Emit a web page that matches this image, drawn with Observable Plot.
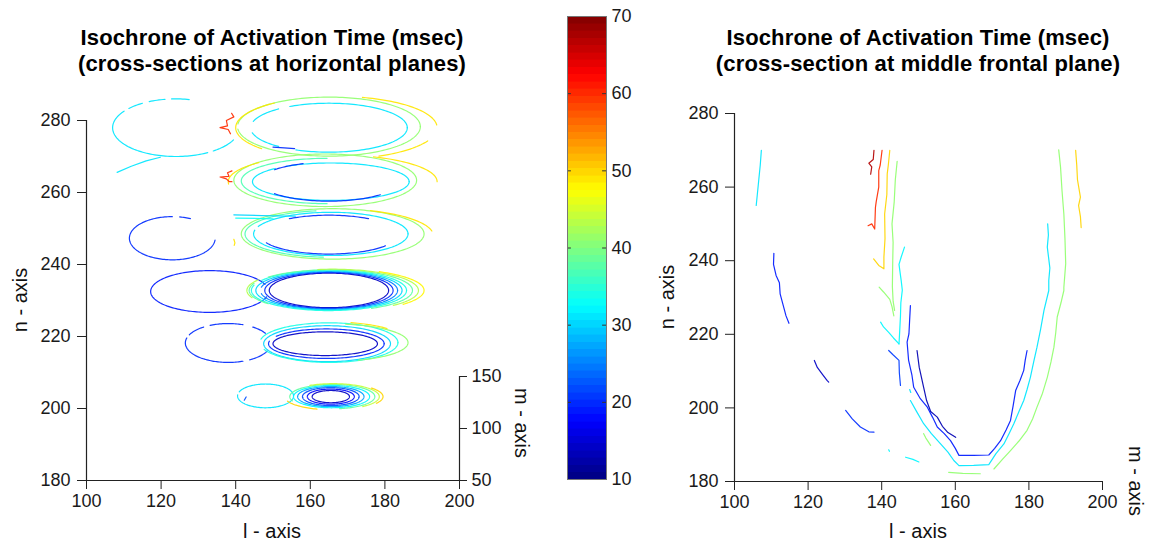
<!DOCTYPE html>
<html><head><meta charset="utf-8">
<script src="https://cdn.jsdelivr.net/npm/d3@7"></script>
<script src="https://cdn.jsdelivr.net/npm/@observablehq/plot@0.6"></script>
<style>
body{margin:0;background:#fff;font-family:"Liberation Sans",Arial,sans-serif;}
#wrap{position:relative;width:1149px;height:548px;overflow:hidden;background:#fff}
.abs{position:absolute}
.title{font-weight:bold;font-size:22px;letter-spacing:0.15px;text-align:center;line-height:26px;color:#000;width:460px}
.lab{font-size:20px;color:#111;white-space:nowrap;transform-origin:center}
</style></head><body><div id="wrap"></div>
<script>
// ---------- DATA ----------
// colour bar
const colorTicks = [10, 20, 30, 40, 50, 60, 70];
const jetDomain = [10, 17.5, 32.5, 47.5, 62.5, 70];
const jetRange = ["#000080", "#0000ff", "#00ffff", "#ffff00", "#ff0000", "#800000"];
const lTicks = [100, 120, 140, 160, 180, 200];
const nTicks = [180, 200, 220, 240, 260, 280];
const mTicks = [50, 100, 150];

// left panel: isochrone rings (l-centre, n-centre, l-radius, n-radius, time, visible arcs in degrees)
const band1 = [
  {cx:124, cy:278, rx:17, ry:8, v:31, arcs:[[78,94],[100,115],[122,138],[145,300],[306,335]]},
  {cx:165, cy:278, rx:21, ry:6.8, v:31, arcs:[[0,120],[130,165],[192,230],[245,360]]},
  {cx:165, cy:278.3, rx:24.5, ry:8.2, v:41, arcs:[[0,175],[185,360]]},
  {cx:167, cy:278, rx:27, ry:8.7, v:49, arcs:[[5,75],[128,222],[295,335]]}
];
const band2 = [
  {cx:165.5, cy:263, rx:21, ry:5.2, v:31, arcs:[[0,125],[135,360]]},
  {cx:165, cy:263, rx:18.5, ry:5.4, v:20, arcs:[[112,142],[218,318]]},
  {cx:164.5, cy:263.2, rx:23, ry:6.3, v:37, arcs:[[90,270]]},
  {cx:164, cy:263.4, rx:24.5, ry:7.3, v:41, arcs:[[0,360]]},
  {cx:166, cy:263, rx:28, ry:7.5, v:49, arcs:[[0,67],[135,185]]}
];
const band3 = [
  {cx:165.5, cy:248.5, rx:20.7, ry:6, v:31, arcs:[[0,160],[170,360]]},
  {cx:165, cy:248.3, rx:18.5, ry:5.4, v:20, arcs:[[55,125],[205,325]]},
  {cx:165.5, cy:248.5, rx:23, ry:6.5, v:37, arcs:[[100,265]]},
  {cx:166, cy:248.5, rx:24.5, ry:7, v:41, arcs:[[0,360]]},
  {cx:166, cy:248, rx:27, ry:7.5, v:49, arcs:[[10,68]]},
  {cx:123, cy:247.3, rx:11.5, ry:6, v:20, arcs:[[65,80],[90,355]]}
];
const band4 = [
  {cx:133, cy:232.5, rx:15.8, ry:5.8, v:19, arcs:[[20,345]]},
  {cx:165, cy:232.8, rx:16, ry:4.8, v:14, arcs:[[0,360]]},
  {cx:165, cy:232.8, rx:17.2, ry:5.0, v:20, arcs:[[0,360]]},
  {cx:165, cy:232.8, rx:18.4, ry:5.2, v:25, arcs:[[0,170],[190,360]]},
  {cx:165, cy:232.8, rx:19.6, ry:5.4, v:30, arcs:[[0,360]]},
  {cx:165, cy:232.8, rx:20.8, ry:5.6, v:34, arcs:[[0,150],[165,360]]},
  {cx:165.5, cy:232.8, rx:21.9, ry:5.75, v:38, arcs:[[-60,140],[160,220]]},
  {cx:166, cy:232.8, rx:23, ry:5.9, v:43, arcs:[[-45,100],[150,200]]},
  {cx:166.5, cy:232.8, rx:24, ry:6.0, v:48, arcs:[[-40,60]]}
];
const band5 = [
  {cx:138, cy:218.2, rx:11.5, ry:5.4, v:20, arcs:[[30,55],[70,115],[125,155],[165,290],[300,335]]},
  {cx:164, cy:218, rx:14, ry:3.3, v:14, arcs:[[0,360]]},
  {cx:164.3, cy:218, rx:15.5, ry:4.1, v:20, arcs:[[0,150],[170,360]]},
  {cx:164.5, cy:218, rx:17, ry:5, v:30, arcs:[[0,360]]},
  {cx:165, cy:218.3, rx:18.5, ry:5.5, v:34, arcs:[[0,170],[200,360]]},
  {cx:166, cy:218.3, rx:20.2, ry:5.2, v:41, arcs:[[-70,80]]},
  {cx:166, cy:219, rx:19, ry:5, v:49, arcs:[[40,75]]}
];
const band6 = [
  {cx:148, cy:203.5, rx:7.5, ry:3.3, v:31, arcs:[[0,160],[175,350]]},
  {cx:165.5, cy:203.3, rx:5, ry:1.7, v:14, arcs:[[0,360]]},
  {cx:165.5, cy:203.3, rx:6.3, ry:2.1, v:18, arcs:[[0,360]]},
  {cx:165.5, cy:203.3, rx:7.6, ry:2.5, v:22, arcs:[[0,360]]},
  {cx:165.5, cy:203.3, rx:8.9, ry:2.8, v:27, arcs:[[0,360]]},
  {cx:165.7, cy:203.3, rx:10.2, ry:3.1, v:32, arcs:[[0,360]]},
  {cx:165.9, cy:203.3, rx:11.4, ry:3.4, v:38, arcs:[[-80,200]]},
  {cx:166.1, cy:203.3, rx:12.4, ry:3.6, v:44, arcs:[[-50,120]]},
  {cx:166.3, cy:203.3, rx:13.2, ry:3.7, v:50, arcs:[[-30,40],[200,250]]}
];
// left panel: open fragments (l, n points)
const leftFragments = [
  {v:60, pts:[[138.9,282],[139.5,281],[137.5,280],[137.8,278.5],[135.8,278],[138,277.5],[138.6,276.3]]},
  {v:20, pts:[[150,272.6],[153,272.4],[155.8,272.2]]},
  {v:31, pts:[[108.2,265.6],[112,267.3],[116,268.8],[119.8,269.8]]},
  {v:60, pts:[[139,266],[137.8,265.5],[138.2,264.5],[135.8,264.3],[137.5,263.8],[138.3,263],[139,263]]},
  {v:49, pts:[[139.5,247],[139.8,246],[139.6,245.3]]},
  {v:30, pts:[[139.5,253.8],[147,253.6],[156,253.4]]},
  {v:33, pts:[[140,252.9],[150,252.7]]},
  {v:22, pts:[[142.3,202.3],[142.8,203.2]]}
];

// right panel: isochrone lines in the middle frontal plane (l, n points)
const rightCurves = [
  {v:31, pts:[[107.3,270],[107,266],[106.6,262],[106.2,258],[105.9,255]]},
  {v:19, pts:[[110.7,242],[110.6,239],[111.3,236],[112.2,234],[112.4,231],[113.2,228],[114,225],[114.8,223]]},
  {v:67, pts:[[137.9,270],[137.7,267.5],[136.5,266.5],[137.3,265.5],[137,263.5]]},
  {v:60, pts:[[140.1,270],[139.6,266],[139.2,264.5],[139.2,260],[138.5,256],[138.3,254.5],[138.1,248.6],[137.3,250],[136.3,249.5]]},
  {v:50, pts:[[142.2,270],[141.8,266],[141.5,263.6],[141.4,258],[140.8,252.7],[140.9,246],[140.6,241],[140.6,237.8],[139.2,238.7],[137.8,240.5]]},
  {v:41, pts:[[144.2,267],[143.7,262],[143.4,256],[142.8,250],[143.1,245],[143,240],[142.9,233],[143.1,229],[143.5,226.5]]},
  {v:41, pts:[[139.3,232.8],[140.5,231.5],[142.2,229.5],[142.8,227.5],[143.3,225]]},
  {v:32, pts:[[146.2,243.7],[145.3,241],[144.7,239],[145.1,236],[145.3,234.6],[145.6,232],[145.2,228.5],[145.1,225],[144.9,221],[144.7,217.4]]},
  {v:32, pts:[[139.7,223.3],[140.5,222],[141.9,220.5],[143.2,219],[144.7,217.4]]},
  {v:19, pts:[[147.8,227.8],[147.6,224],[147.4,220.1],[146.9,217.9],[147.3,213],[148.2,209],[148.7,205.6],[150.5,202.5],[152.4,200.2],[153.8,197.5],[155.1,194.8],[157,193],[158.7,191.1],[160,189],[161,187.1],[165,187.1],[169.1,187.2],[170.7,189],[172.3,191.1],[173.8,194],[175,196.6],[175.7,200.5],[176.4,204.7],[177.6,207.5],[178.6,210.2],[179,213],[179.5,215.6]]},
  {v:13, pts:[[149.6,215.6],[150.2,211],[151.4,205.6],[152.2,202],[153.3,199],[155.1,197.5],[156.5,195],[158,193.3],[160.1,192]]},
  {v:31, pts:[[147.6,205],[147.9,204.2]]},
  {v:31, pts:[[147.8,202],[149.5,199],[151.4,195.7],[153.5,193],[156,190.2],[158,188],[159.6,185.7],[161,184.3],[165,184.4],[169.1,184.6],[171,187.5],[173.2,190.2],[174.6,193],[175.9,195.7],[177.3,199],[178.6,202],[179.5,205],[180.4,208.3],[181.3,212.5],[182.2,216.5],[183.2,221.5],[184.1,226.5],[185.4,231.9],[185.4,234.6],[185.7,238],[185,243.7],[185.3,247],[185.1,250]]},
  {v:41, pts:[[158.2,182.5],[162,182.2],[166.8,182.1]]},
  {v:41, pts:[[170.5,183.4],[172.8,186],[175,188.4],[177.3,191],[179.5,193.9],[181,197],[182.2,200.2],[183.7,204],[185,208.3],[186,212.5],[186.8,216.5],[187.3,220.5],[187.7,224.7],[188.7,228.5],[189.5,231.9],[189.5,232.8],[190,239.2],[189.8,246],[189.5,252.7],[189,259],[188.6,265.4],[188.1,270.1]]},
  {v:50, pts:[[192.7,270],[193,266],[193.2,262],[194,257.3],[193.5,255],[194,252],[194.2,249]]},
  {v:21, pts:[[141.9,215.6],[143,214.5],[144.7,212.9],[144.8,209.5],[145.1,206.1]]},
  {v:14, pts:[[121.7,212.9],[122.5,211],[124,209],[125.2,207.4],[125.6,207]]},
  {v:20, pts:[[130.2,199.3],[132,197],[134.2,194.8],[136.5,193.5],[137.9,193.4]]},
  {v:32, pts:[[146.5,186.6],[148.5,186],[150.1,185.3]]},
  {v:32, pts:[[141.9,188.6],[142.1,188.2]]},
  {v:41, pts:[[151.4,193],[152,191.8],[153.3,189.8]]}
];

// ---------- BUILD ----------
function ringRows(rings, prefix) {
  const rows = [];
  rings.forEach((r, i) => r.arcs.forEach((a, j) => {
    const id = prefix + i + "_" + j;
    const steps = Math.max(2, Math.ceil((a[1] - a[0]) / 2));
    for (let k = 0; k <= steps; k++) {
      const th = (a[0] + (a[1] - a[0]) * k / steps) * Math.PI / 180;
      rows.push({id, l: r.cx + r.rx * Math.cos(th), n: r.cy + r.ry * Math.sin(th), v: r.v});
    }
  }));
  return rows;
}
function fragRows(frags, prefix) {
  const rows = [];
  frags.forEach((f, i) => f.pts.forEach(p => rows.push({id: prefix + i, l: p[0], n: p[1], v: f.v})));
  return rows;
}
const leftRows = [
  ...ringRows(band1, "a"), ...ringRows(band2, "b"), ...ringRows(band3, "c"),
  ...ringRows(band4, "d"), ...ringRows(band5, "e"), ...ringRows(band6, "f"),
  ...fragRows(leftFragments, "g")
];
const rightRows = fragRows(rightCurves, "r");

const colorScale = {type: "linear", domain: jetDomain, range: jetRange};
const font = {fontFamily: "'Liberation Sans', Arial, sans-serif", fontSize: "18px", color: "#1a1a1a", background: "transparent", overflow: "visible"};
const axisColor = "#222";

const wrap = document.getElementById("wrap");
function place(el, left, top) {
  el.style.position = "absolute"; el.style.left = left + "px"; el.style.top = top + "px";
  wrap.appendChild(el);
}
function panel(rows, opts) {
  return Plot.plot({
    width: opts.width, height: 548,
    marginLeft: opts.ml, marginRight: opts.mr, marginTop: opts.mt, marginBottom: opts.mb,
    style: font,
    x: {domain: [100, 200]},
    y: {domain: [180, 280]},
    color: colorScale,
    marks: [
      Plot.line(rows, {x: "l", y: "n", z: "id", stroke: "v", strokeWidth: 1.2, strokeOpacity: 0.92}),
      Plot.ruleX([100], {stroke: axisColor, strokeWidth: 1.2}),
      Plot.ruleY([180], {stroke: axisColor, strokeWidth: 1.2}),
      Plot.axisX({ticks: lTicks, tickSize: 9, tickPadding: 5, label: null, stroke: axisColor, fill: "#1a1a1a"}),
      Plot.axisY({ticks: nTicks, tickSize: 9, tickPadding: 7, label: null, stroke: axisColor, fill: "#1a1a1a"})
    ]
  });
}

// left panel
place(panel(leftRows, {width: 540, ml: 86, mr: 81, mt: 120, mb: 68}), 0, 0);

// m-axis (small secondary axis)
const mAxis = Plot.plot({
  width: 100, height: 160, marginLeft: 18, marginRight: 81, marginTop: 36, marginBottom: 20,
  style: font,
  x: {domain: [0, 1], axis: null},
  y: {domain: [50, 150], axis: null},
  marks: [
    Plot.ruleX([1], {stroke: axisColor, strokeWidth: 1.2}),
    Plot.axisY({anchor: "right", ticks: mTicks, tickSize: 7, tickPadding: 5, label: null, stroke: axisColor, fill: "#1a1a1a"})
  ]
});
place(mAxis, 440, 340);

// colour bar
const nSteps = 64;
const cbLevels = d3.range(nSteps).map(i => {
  const lo = 10 + 60 * i / nSteps, hi = 10 + 60 * (i + 1) / nSteps;
  return {lo, hi, mid: (lo + hi) / 2};
});
const cbar = Plot.plot({
  width: 110, height: 548, marginLeft: 27, marginRight: 44, marginTop: 16, marginBottom: 69,
  style: font,
  x: {domain: [0, 1], axis: null},
  y: {domain: [10, 70], axis: null},
  color: colorScale,
  marks: [
    Plot.rect(cbLevels, {x1: 0, x2: 1, y1: "lo", y2: "hi", fill: "mid", stroke: "mid", strokeWidth: 0.6, shapeRendering: "crispEdges"}),
    Plot.ruleY(colorTicks.slice(1, -1), {x1: 0, x2: 0.1, stroke: "#333"}),
    Plot.ruleY(colorTicks.slice(1, -1), {x1: 0.9, x2: 1, stroke: "#333"}),
    Plot.frame({stroke: "#777"}),
    Plot.axisY({anchor: "right", ticks: colorTicks, tickSize: 0, tickPadding: 5, label: null, fill: "#1a1a1a"})
  ]
});
place(cbar, 540, 0);

// right panel
place(panel(rightRows, {width: 509, ml: 94, mr: 47, mt: 113, mb: 67}), 640, 0);

// text
function addText(html, cls, cx, cy, rot) {
  const d = document.createElement("div");
  d.className = "abs " + cls;
  d.innerHTML = html;
  d.style.left = cx + "px"; d.style.top = cy + "px";
  d.style.transform = "translate(-50%,-50%)" + (rot ? " rotate(" + rot + "deg)" : "");
  wrap.appendChild(d);
}
addText("Isochrone of Activation Time (msec)<br>(cross-sections at horizontal planes)", "title", 272, 51);
addText("Isochrone of Activation Time (msec)<br>(cross-section at middle frontal plane)", "title", 918, 51);
addText("n - axis", "lab", 20, 300, -90);
addText("l - axis", "lab", 272, 531);
addText("m - axis", "lab", 521, 423, 90);
addText("n - axis", "lab", 667, 297, -90);
addText("l - axis", "lab", 918, 531);
addText("m - axis", "lab", 1135, 481, 90);
</script></body></html>
